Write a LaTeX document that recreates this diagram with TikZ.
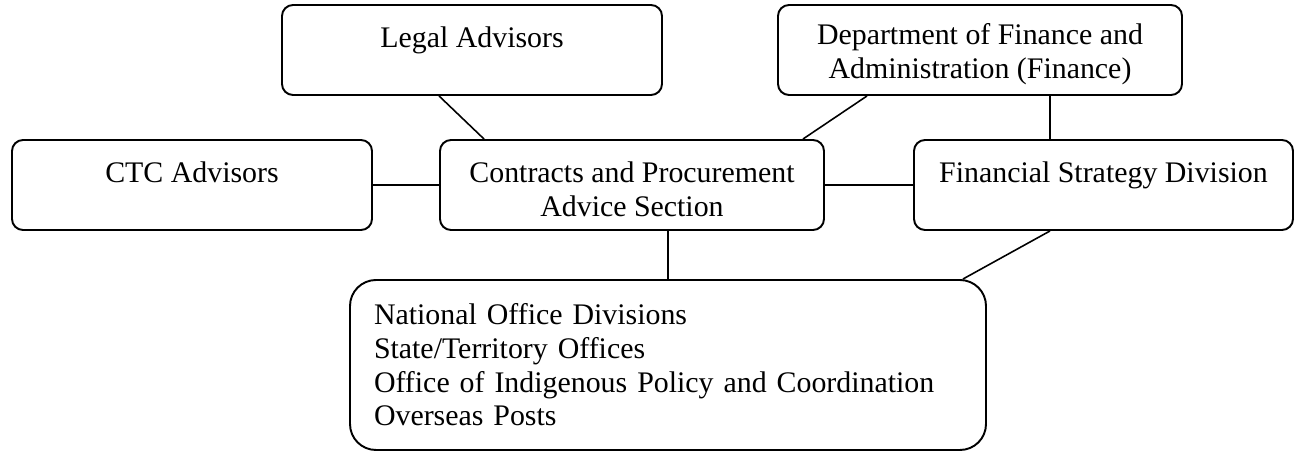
\documentclass[tikz,border=0pt]{standalone}
\usepackage{fontspec}
\setmainfont{Liberation Serif}
\usetikzlibrary{positioning, calc}

% extra room above the first line of a box
\newcommand{\padtop}{\rule{0pt}{16.6pt}}

\begin{document}
\begin{tikzpicture}[
  every node/.style={font={\fontsize{17}{19.5}\selectfont}},
  box/.style={draw, line width=1.1pt, rounded corners=0.22cm, align=center,
              minimum height=1.8cm, inner sep=0pt},
  listbox/.style={draw, line width=1.1pt, rounded corners=0.52cm, align=left,
                  inner sep=0pt, font={\fontsize{17}{19.2}\selectfont}},
  wire/.style={line width=0.9pt}]
  \useasboundingbox (0,0) rectangle (25.92,9.10);
  % top row
  \node[box, minimum width=7.60cm] (legal) at (9.44,8.10)
    {\padtop Legal Advisors\\ \mbox{}};
  \node[box, minimum width=8.08cm] (dept) at (19.60,8.10)
    {\padtop Department of Finance and\\Administration (Finance)};
  % middle row
  \node[box, minimum width=7.20cm] (ctc) at (3.84,5.40)
    {\padtop CTC Advisors\\ \mbox{}};
  \node[box, minimum width=7.68cm] (cpas) at (12.64,5.40)
    {\padtop Contracts and Procurement\\Advice Section};
  \node[box, minimum width=7.58cm] (fsd) at (22.07,5.40)
    {\padtop Financial Strategy Division\\ \mbox{}};
  % bottom list box
  \node[listbox, minimum width=12.72cm, minimum height=3.4cm, text width=11.76cm]
    (offices) at (13.36,1.80)
    {National Office Divisions\\State/Territory Offices\\
     Office of Indigenous Policy and Coordination\\Overseas Posts};
  % links into the section
  \draw[wire] (legal.south -| cpas.west) -- ([xshift=0.9cm]cpas.north west);
  \draw[wire] ([xshift=1.8cm]dept.south west) -- ([xshift=-0.44cm]cpas.north east);
  \draw[wire] (ctc) -- (cpas);
  \draw[wire] (cpas) -- (fsd);
  \draw[wire] (offices.north) -- (offices.north |- cpas.south);
  % finance side
  \draw[wire] ([xshift=-1.07cm]fsd.north) -- ([xshift=-1.07cm]fsd.north |- dept.south);
  \draw[wire] ([xshift=-1.07cm]fsd.south) -- ([xshift=-0.48cm]offices.north east);
\end{tikzpicture}
\end{document}
